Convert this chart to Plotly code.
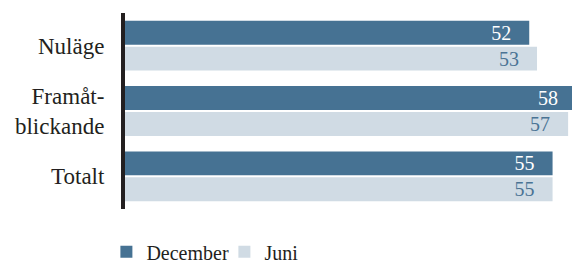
import plotly.graph_objects as go

categories = ["Nuläge", "Framåt-<br>blickande", "Totalt"]
december = [52, 58, 55]
juni = [53, 57, 55]
series_names = ["December", "Juni"]

DARK = "#467293"
LIGHT = "#d0dbe4"
TEXT = "#231f20"
FONT = "Liberation Serif"
PAD = "\u00a0\u00a0\u00a0"

fig = go.Figure()
fig.add_trace(go.Bar(
    y=categories, x=december, name=series_names[0], orientation="h",
    marker=dict(color=DARK, line=dict(width=0)),
    text=[f"{v}{PAD}" for v in december], textposition="inside",
    insidetextanchor="end", constraintext="none",
    insidetextfont=dict(family=FONT, size=20, color="white"),
    cliponaxis=True, hoverinfo="skip",
))
fig.add_trace(go.Bar(
    y=categories, x=juni, name=series_names[1], orientation="h",
    marker=dict(color=LIGHT, line=dict(width=0)),
    text=[f"{v}{PAD}" for v in juni], textposition="inside",
    insidetextanchor="end", constraintext="none",
    insidetextfont=dict(family=FONT, size=20, color="#4a7394"),
    cliponaxis=True, hoverinfo="skip",
))

fig.update_layout(
    width=572, height=262,
    margin=dict(l=125, r=0, t=13, b=53, autoexpand=False),
    barmode="group", bargap=0.206, bargroupgap=0.077,
    plot_bgcolor="white", paper_bgcolor="white",
    font=dict(family=FONT, size=23, color=TEXT),
    showlegend=True,
    legend=dict(orientation="h", xref="container", yref="paper",
                x=0.186, xanchor="left", y=-0.318, yanchor="bottom",
                font=dict(family=FONT, size=20, color=TEXT),
                itemwidth=30, traceorder="normal",
                entrywidth=73, entrywidthmode="pixels"),
)
fig.update_xaxes(range=[0, 57.5], visible=False, showgrid=False, zeroline=False,
                 automargin=False)
fig.update_yaxes(autorange=False, range=[2.5, -0.5], showline=True, linewidth=4,
                 linecolor=TEXT, showgrid=False, zeroline=False, ticks="",
                 automargin=False,
                 ticklabelstandoff=12, tickfont=dict(family=FONT, size=23, color=TEXT))

fig.write_html("out.html", config={"displayModeBar": False, "staticPlot": True},
               post_script="document.body.style.margin='0';document.body.style.overflow='hidden';")
